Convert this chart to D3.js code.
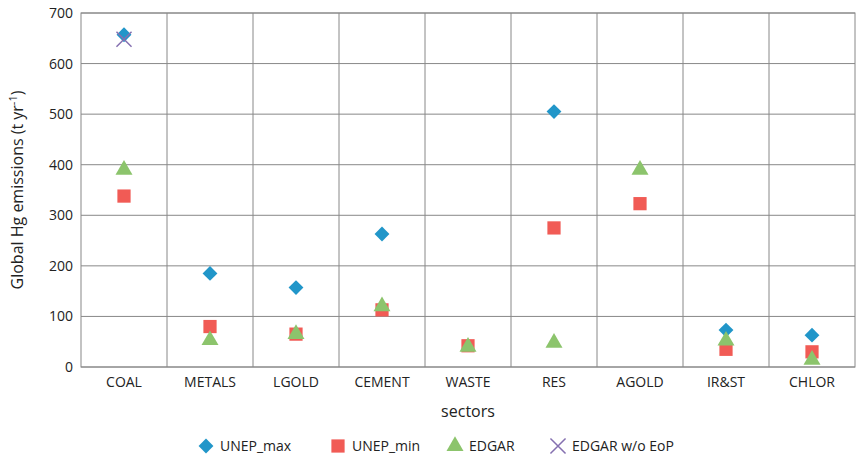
<!DOCTYPE html>
<html><head><meta charset="utf-8">
<script src="https://cdn.jsdelivr.net/npm/d3@7"></script>
<style>body{margin:0;background:#fff;font-family:"Open Sans",sans-serif;}</style>
</head><body><svg width="867" height="459"></svg>
<script>
const sectors = ["COAL","METALS","LGOLD","CEMENT","WASTE","RES","AGOLD","IR&ST","CHLOR"];
const unepMax = [657,185,157,263,null,505,null,73,63];
const unepMin = [338,80,65,113,42,275,323,35,30];
const edgar = [390,53,65,120,40,48,390,52,14];
const edgarWoEoP = [648,null,null,null,null,null,null,null,null];
const yTicks = [0,100,200,300,400,500,600,700];

const svg = d3.select("svg");
const margin = {top: 13, left: 81, right: 12, bottom: 92};
const w = 867 - margin.left - margin.right, h = 459 - margin.top - margin.bottom;
const g = svg.append("g").attr("transform", `translate(${margin.left},${margin.top})`);

const x = d3.scaleBand().domain(sectors).range([0, w]);
const y = d3.scaleLinear().domain([0, 700]).range([h, 0]);

// gridlines
g.selectAll(".hg").data(yTicks).enter().append("line")
  .attr("x1", 0).attr("x2", w).attr("y1", d => y(d)).attr("y2", d => y(d))
  .attr("stroke", "#888").attr("stroke-width", 1);
g.selectAll(".vg").data(sectors.slice(1)).enter().append("line")
  .attr("x1", d => x(d)).attr("x2", d => x(d)).attr("y1", 0).attr("y2", h)
  .attr("stroke", "#888");
g.append("rect").attr("width", w).attr("height", h).attr("fill", "none").attr("stroke", "#888");

// axes
const yAxis = g.append("g").call(d3.axisLeft(y).tickValues(yTicks).tickSize(0).tickPadding(8));
yAxis.select(".domain").remove();
yAxis.selectAll("text").attr("font-size", 14).attr("font-family", "Open Sans").attr("fill", "#222");
const xAxis = g.append("g").attr("transform", `translate(0,${h})`).call(d3.axisBottom(x).tickSize(0).tickPadding(10));
xAxis.select(".domain").remove();
xAxis.selectAll("text").attr("font-size", 14).attr("font-family", "Open Sans").attr("fill", "#222");

g.append("text").attr("x", w/2).attr("y", h + 50).attr("text-anchor", "middle")
  .attr("font-size", 16).attr("fill", "#222").text("sectors");
const yl = g.append("text").attr("transform", `translate(-58,${h/2}) rotate(-90)`)
  .attr("text-anchor", "middle").attr("font-size", 16).attr("fill", "#222");
yl.append("tspan").text("Global Hg emissions (t yr");
yl.append("tspan").attr("dy", -6).attr("font-size", 11).text("-1");
yl.append("tspan").attr("dy", 6).text(")");

const cx = d => x(d) + x.bandwidth()/2;
const sym = {
  max: d3.symbol().type(d3.symbolDiamond2).size(140),
  min: d3.symbol().type(d3.symbolSquare).size(175),
  edgar: d3.symbol().type(d3.symbolTriangle).size(125),
  x: d3.symbol().type(d3.symbolX).size(150)
};
const series = [
  {name: "UNEP_max", vals: unepMax, s: sym.max, color: "#2196c9", stroke: false},
  {name: "UNEP_min", vals: unepMin, s: sym.min, color: "#f15b55", stroke: false},
  {name: "EDGAR", vals: edgar, s: sym.edgar, color: "#8cc46c", stroke: false},
  {name: "EDGAR w/o EoP", vals: edgarWoEoP, s: sym.x, color: "#8570b0", stroke: true}
];
series.forEach(sr => {
  const pts = sectors.map((c, i) => ({c, v: sr.vals[i]})).filter(d => d.v != null);
  g.selectAll(null).data(pts).enter().append("path")
    .attr("transform", d => `translate(${cx(d.c)},${y(d.v)})`)
    .attr("d", sr.s)
    .attr("fill", sr.stroke ? "none" : sr.color)
    .attr("stroke", sr.stroke ? sr.color : "none").attr("stroke-width", 1.5);
});

// legend
const legX = [206, 338, 455, 558];
const leg = svg.append("g").attr("transform", "translate(0,446)");
series.forEach((sr, i) => {
  leg.append("path").attr("transform", `translate(${legX[i]},0)`).attr("d", sr.s)
    .attr("fill", sr.stroke ? "none" : sr.color)
    .attr("stroke", sr.stroke ? sr.color : "none").attr("stroke-width", 1.5);
  leg.append("text").attr("x", legX[i] + 14).attr("y", 5).attr("font-size", 14)
    .attr("fill", "#222").text(sr.name);
});
</script></body></html>
